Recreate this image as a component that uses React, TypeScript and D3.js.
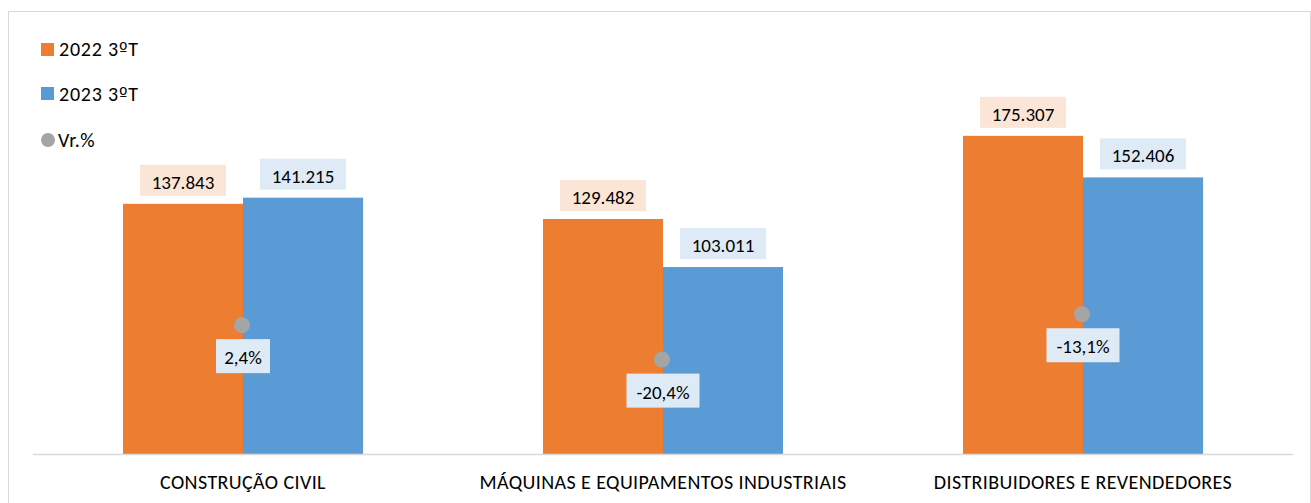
import React from "react";
import * as d3 from "d3";

const categories = ["CONSTRUÇÃO CIVIL", "MÁQUINAS E EQUIPAMENTOS INDUSTRIAIS", "DISTRIBUIDORES E REVENDEDORES"];
const seriesNames = ["2022 3ºT", "2023 3ºT"];
const values2022 = [137.843, 129.482, 175.307];
const values2023 = [141.215, 103.011, 152.406];
const vrLabels = ["2,4%", "-20,4%", "-13,1%"];
// marker heights of the Vr.% dots in primary-axis units
const vrMarker = [71, 52, 77];
const colors = ["#ED7D31", "#5B9BD5"];
const labelBg = ["#FBE5D6", "#DEEBF7"];
const dotColor = "#A5A5A5";

const W = 1311, H = 503;
const FONT = "Carlito, Calibri, 'Open Sans', sans-serif";

const fmt = (v: number) => v.toFixed(3);

function LegendText({ s }: { s: string }) {
  const parts = s.split("º");
  return (
    <>
      {parts.map((p, i) => (
        <React.Fragment key={i}>
          {p}
          {i < parts.length - 1 ? <tspan fontFamily="'DejaVu Sans', sans-serif" fontSize={18}>º</tspan> : null}
        </React.Fragment>
      ))}
    </>
  );
}

export default function App() {
  const x0 = d3.scaleBand().domain(categories).range([33, 1293]).paddingInner(180 / 420).paddingOuter(90 / 420);
  const x1 = d3.scaleBand().domain(seriesNames).range([0, x0.bandwidth()]);
  const y = d3.scaleLinear().domain([0, 200]).range([454, 91]);
  const series = [values2022, values2023];

  return (
    <svg width={W} height={H} style={{ position: "absolute", left: 0, top: 0, background: "#fff" }} fontFamily={FONT}>
      <rect x={8.5} y={11.5} width={1302} height={500} fill="#fff" stroke="#D9D9D9" />
      {categories.map((c, ci) => (
        <g key={c}>
          {series.map((vals, si) => {
            const bx = (x0(c) as number) + (x1(seriesNames[si]) as number);
            const bw = x1.bandwidth();
            const top = y(vals[ci]);
            const cx = bx + bw / 2;
            return (
              <g key={si}>
                <rect x={bx} y={top} width={bw} height={y(0) - top} fill={colors[si]} />
                <rect x={cx - 43} y={top - 39} width={86} height={31} fill={labelBg[si]} />
                <text x={cx} y={top - 15} textAnchor="middle" fontSize={19} fill="#000">{fmt(vals[ci])}</text>
              </g>
            );
          })}
        </g>
      ))}
      <line x1={33} x2={1293} y1={454.5} y2={454.5} stroke="#D9D9D9" strokeWidth={1.5} />
      {categories.map((c, ci) => {
        const cx = (x0(c) as number) + x0.bandwidth() / 2;
        const dy = y(vrMarker[ci]);
        const w = vrLabels[ci].length * 9.5 + 16;
        return (
          <g key={"vr" + c}>
            <circle cx={cx - 1} cy={dy} r={8} fill={dotColor} />
            <rect x={cx - w / 2} y={dy + 14} width={w} height={34} fill="#DEEBF7" />
            <text x={cx} y={dy + 39} textAnchor="middle" fontSize={19} fill="#000">{vrLabels[ci]}</text>
            <text x={cx} y={489} textAnchor="middle" fontSize={20} letterSpacing={0.4} fill="#000">{c}</text>
          </g>
        );
      })}
      {seriesNames.map((s, i) => (
        <g key={s}>
          <rect x={41} y={43 + i * 44} width={13} height={13} fill={colors[i]} />
          <text x={59} y={56 + i * 44.5} fontSize={20} letterSpacing={0.8} fill="#000"><LegendText s={s} /></text>
        </g>
      ))}
      <circle cx={48} cy={140} r={7} fill={dotColor} />
      <text x={58} y={147} fontSize={20} letterSpacing={0.5} fill="#000">Vr.%</text>
    </svg>
  );
}
